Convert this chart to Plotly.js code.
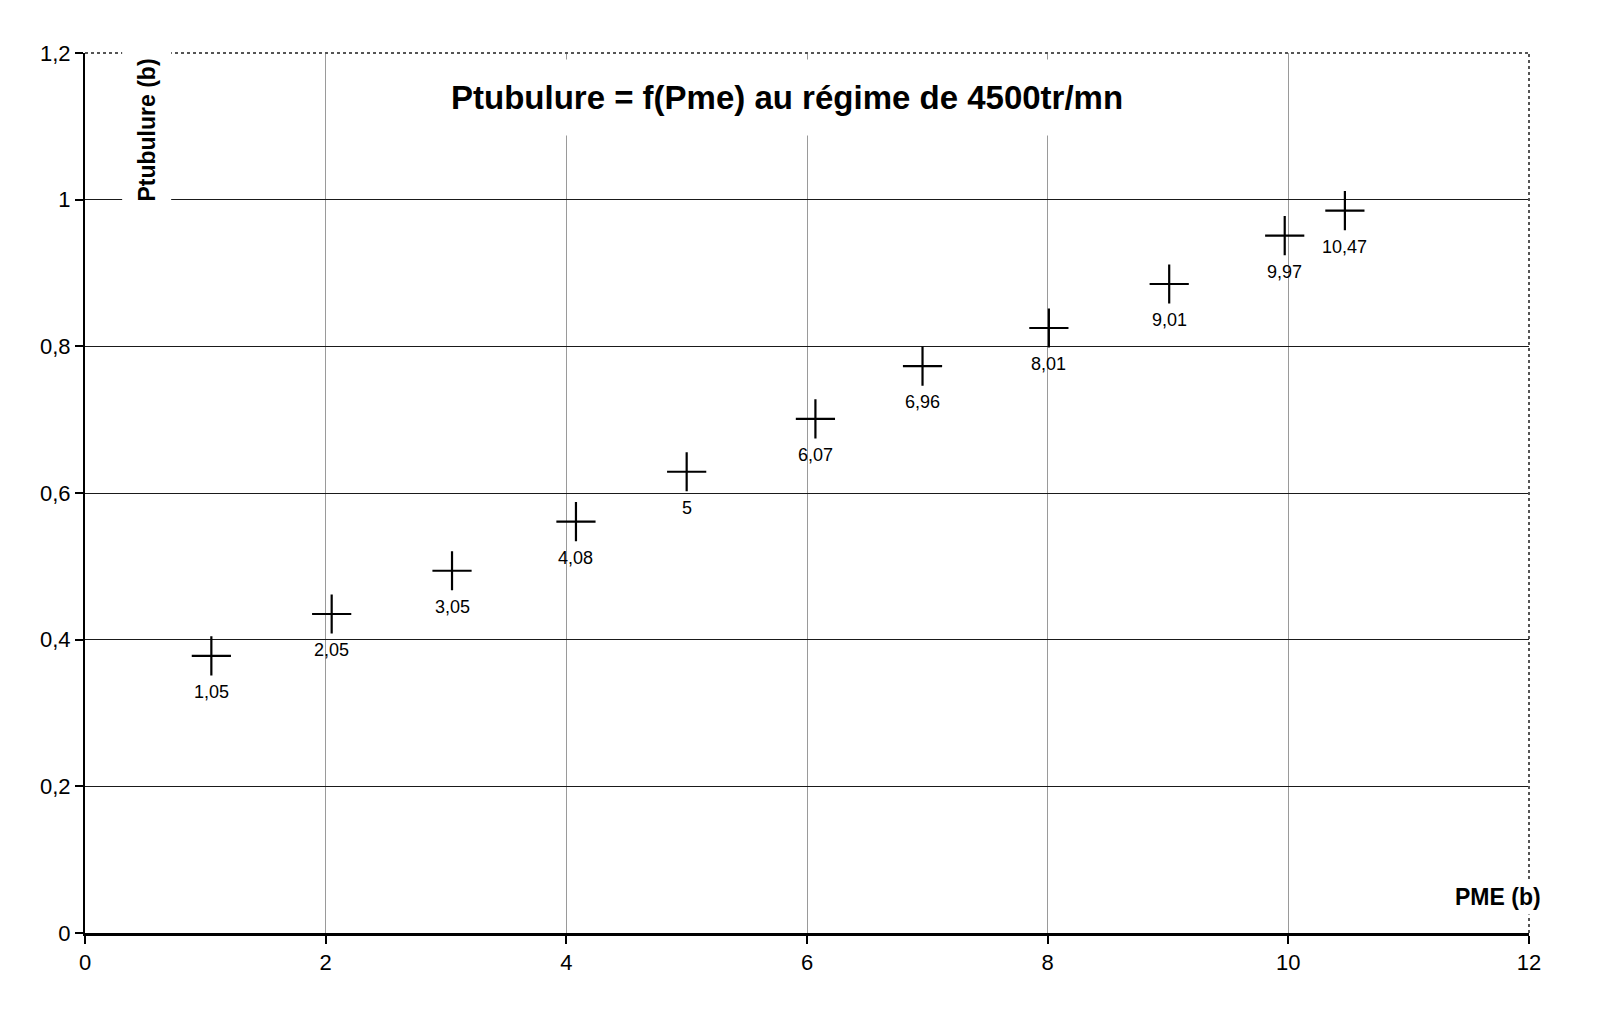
<!DOCTYPE html>
<html>
<head>
<meta charset="utf-8">
<script src="https://cdn.plot.ly/plotly-3.0.1.min.js"></script>
<style>html,body{margin:0;padding:0;background:#fff;}#chart{width:1609px;height:1026px;}</style>
</head>
<body>
<div id="chart"></div>
<script>
// Data
const pme = [1.05, 2.05, 3.05, 4.08, 5, 6.07, 6.96, 8.01, 9.01, 9.97, 10.47];
const ptubulure = [0.378, 0.435, 0.494, 0.561, 0.629, 0.701, 0.773, 0.825, 0.885, 0.951, 0.985];
const pointLabels = pme.map(v => String(v).replace('.', ','));
const xTicks = [0, 2, 4, 6, 8, 10, 12];
const xTickText = ['0', '2', '4', '6', '8', '10', '12'];
const yTicks = [0, 0.2, 0.4, 0.6, 0.8, 1, 1.2];
const yTickText = ['0', '0,2', '0,4', '0,6', '0,8', '1', '1,2'];

const FONT = 'Liberation Sans, Arial, sans-serif';

const trace = {
  x: pme, y: ptubulure, type: 'scatter', mode: 'markers',
  marker: {symbol: 'cross-thin', size: 28, color: '#000', line: {color: '#000', width: 2.2}},
  hoverinfo: 'x+y', showlegend: false
};

const annotations = pme.map((v, i) => ({
  x: v, y: ptubulure[i], xref: 'x', yref: 'y', text: pointLabels[i],
  showarrow: false, yshift: -36, font: {family: FONT, size: 18, color: '#000'}
}));

annotations.push({
  text: '<b>Ptubulure = f(Pme) au régime de 4500tr/mn</b>',
  xref: 'paper', yref: 'paper', x: 0.486, y: 0.949, xanchor: 'center', yanchor: 'middle',
  showarrow: false, bgcolor: '#fff', borderpad: 19,
  font: {family: FONT, size: 33, color: '#000'}
});
annotations.push({
  text: '<b>Ptubulure (b)</b>',
  xref: 'paper', yref: 'paper', x: 0.043, y: 0.912, xanchor: 'center', yanchor: 'middle',
  textangle: -90, showarrow: false, bgcolor: '#fff', borderpad: 11,
  font: {family: FONT, size: 23, color: '#000'}
});
annotations.push({
  text: '<b>PME (b)</b>',
  xref: 'paper', yref: 'paper', x: 1.012, y: 0.041, xanchor: 'right', yanchor: 'middle',
  showarrow: false, bgcolor: '#fff', borderpad: 4,
  font: {family: FONT, size: 23, color: '#000'}
});

const layout = {
  width: 1609, height: 1026,
  margin: {l: 85, r: 80, t: 53, b: 93},
  paper_bgcolor: '#fff', plot_bgcolor: '#fff',
  font: {family: FONT, color: '#000'},
  xaxis: {
    range: [0, 12], tickvals: xTicks, ticktext: xTickText,
    showgrid: true, gridcolor: '#9a9a9a', gridwidth: 1,
    zeroline: false, showline: true, linecolor: '#000', linewidth: 3,
    ticks: 'outside', ticklen: 8, tickwidth: 2, tickcolor: '#000',
    tickfont: {family: FONT, size: 22, color: '#000'}
  },
  yaxis: {
    range: [0, 1.2], tickvals: yTicks, ticktext: yTickText,
    showgrid: true, gridcolor: '#1a1a1a', gridwidth: 1,
    zeroline: false, showline: true, linecolor: '#000', linewidth: 2,
    ticks: 'outside', ticklen: 8, tickwidth: 2, tickcolor: '#000',
    tickfont: {family: FONT, size: 22, color: '#000'}
  },
  shapes: [
    {type: 'line', xref: 'paper', yref: 'paper', x0: 0, x1: 1, y0: 1, y1: 1, line: {color: '#555', width: 2, dash: 'dot'}},
    {type: 'line', xref: 'paper', yref: 'paper', x0: 1, x1: 1, y0: 0, y1: 1, line: {color: '#555', width: 2, dash: 'dot'}}
  ],
  annotations: annotations
};

Plotly.newPlot('chart', [trace], layout, {displayModeBar: false, staticPlot: true});
</script>
</body>
</html>
